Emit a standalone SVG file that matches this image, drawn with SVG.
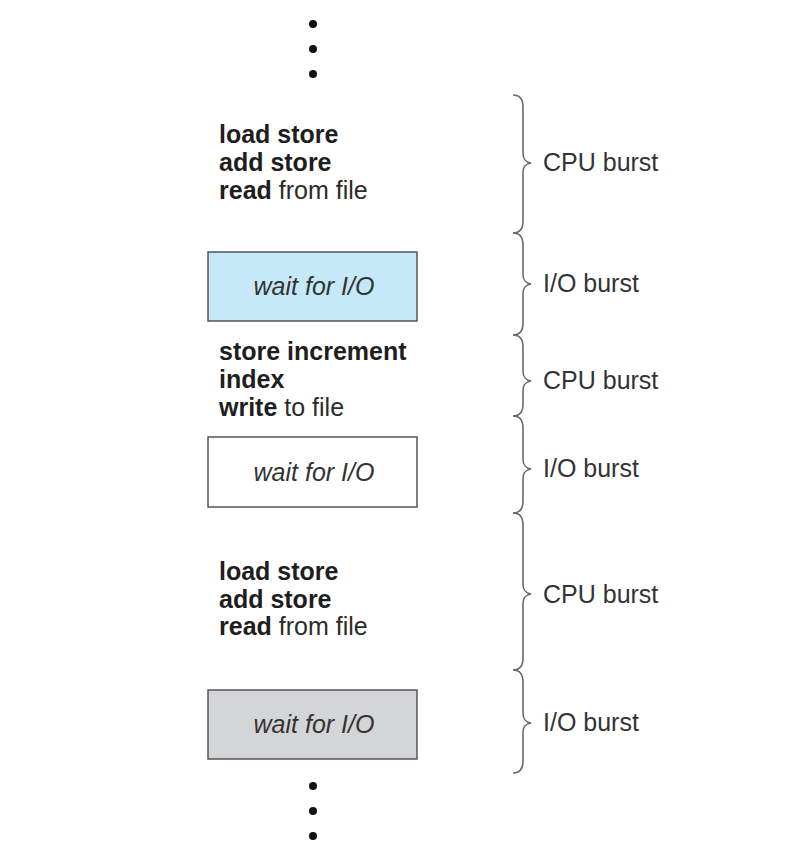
<svg xmlns="http://www.w3.org/2000/svg" width="792" height="853" viewBox="0 0 792 853">
  <style>
    .code { font-family: "Liberation Sans", Arial, sans-serif; font-size: 25px; fill: #2b2b2b; }
    .code .kw { font-weight: bold; fill: #1e1e1e; }
    .wait { font-family: "Liberation Sans", Arial, sans-serif; font-size: 25px; font-style: italic; fill: #333; text-anchor: middle; }
    .label { font-family: "Liberation Sans", Arial, sans-serif; font-size: 25px; fill: #333; }
    .box { stroke: #555; stroke-width: 1.5; }
    .brace { fill: none; stroke: #6a6a6a; stroke-width: 1.6; }
    .dot { fill: #111; }
  </style>

  <rect width="792" height="853" fill="#ffffff"/>

  <!-- continuation dots -->
  <g id="dots-top">
    <circle class="dot" cx="313" cy="24" r="4"/>
    <circle class="dot" cx="313" cy="49" r="4"/>
    <circle class="dot" cx="313" cy="74" r="4"/>
  </g>
  <g id="dots-bottom">
    <circle class="dot" cx="313" cy="786" r="4"/>
    <circle class="dot" cx="313" cy="811" r="4"/>
    <circle class="dot" cx="313" cy="836" r="4"/>
  </g>

  <!-- instruction blocks -->
  <g id="cpu1">
    <text class="code" x="219" y="143"><tspan class="kw">load store</tspan></text>
    <text class="code" x="219" y="171"><tspan class="kw">add store</tspan></text>
    <text class="code" x="219" y="199"><tspan class="kw">read</tspan> from file</text>
  </g>
  <g id="io1">
    <rect class="box" x="208" y="252" width="209" height="69" fill="#c6e9f9"/>
    <text class="wait" x="314" y="295">wait for I/O</text>
  </g>
  <g id="cpu2">
    <text class="code" x="219" y="360"><tspan class="kw">store increment</tspan></text>
    <text class="code" x="219" y="388"><tspan class="kw">index</tspan></text>
    <text class="code" x="219" y="416"><tspan class="kw">write</tspan> to file</text>
  </g>
  <g id="io2">
    <rect class="box" x="208" y="437" width="209" height="70" fill="#ffffff"/>
    <text class="wait" x="314" y="481">wait for I/O</text>
  </g>
  <g id="cpu3">
    <text class="code" x="219" y="580"><tspan class="kw">load store</tspan></text>
    <text class="code" x="219" y="608"><tspan class="kw">add store</tspan></text>
    <text class="code" x="219" y="635"><tspan class="kw">read</tspan> from file</text>
  </g>
  <g id="io3">
    <rect class="box" x="208" y="690" width="209" height="69" fill="#d4d5d7"/>
    <text class="wait" x="314" y="733">wait for I/O</text>
  </g>

  <!-- braces grouping the bursts -->
  <g id="connectors">
    <path class="brace" d="M513 95 C520 95 523 99 523 107 L523 153 C523 159 525 162 531 163 C525 164 523 167 523 173 L523 221 C523 229 520 233 513 233"/>
    <path class="brace" d="M513 233 C520 233 523 237 523 245 L523 274 C523 280 525 283 531 284 C525 285 523 288 523 294 L523 323 C523 331 520 335 513 335"/>
    <path class="brace" d="M513 335 C520 335 523 339 523 347 L523 371 C523 377 525 380 531 381 C525 382 523 385 523 391 L523 404 C523 412 520 416 513 416"/>
    <path class="brace" d="M513 416 C520 416 523 420 523 428 L523 459 C523 465 525 468 531 469 C525 470 523 473 523 479 L523 501 C523 509 520 513 513 513"/>
    <path class="brace" d="M513 513 C520 513 523 517 523 525 L523 584 C523 590 525 593 531 594 C525 595 523 598 523 604 L523 658 C523 666 520 670 513 670"/>
    <path class="brace" d="M513 670 C520 670 523 674 523 682 L523 713 C523 719 525 722 531 723 C525 724 523 727 523 733 L523 761 C523 769 520 773 513 773"/>
  </g>

  <!-- burst labels -->
  <g id="labels">
    <text class="label" x="543" y="171">CPU burst</text>
    <text class="label" x="543" y="292">I/O burst</text>
    <text class="label" x="543" y="389">CPU burst</text>
    <text class="label" x="543" y="477">I/O burst</text>
    <text class="label" x="543" y="603">CPU burst</text>
    <text class="label" x="543" y="731">I/O burst</text>
  </g>
</svg>
